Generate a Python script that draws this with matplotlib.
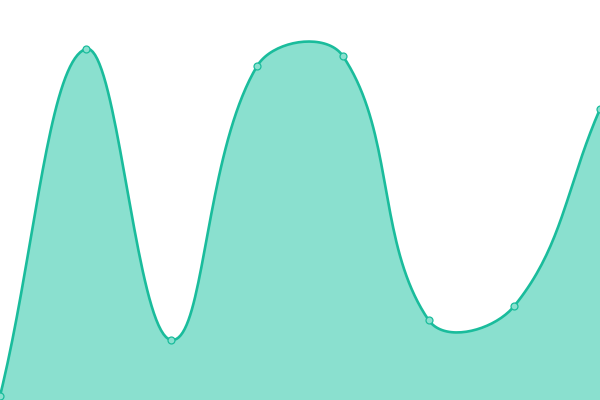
import numpy as np
import matplotlib
matplotlib.use("Agg")
import matplotlib.pyplot as plt

# series values (y axis 0..400)
labels = ["A", "B", "C", "D", "E", "F", "G", "H"]
values = [4, 351, 60, 334, 344, 80, 94, 291]

LINE = "#1abc9c"
FILL = "#8ae0cf"
TENSION = 0.4


def spline_path(px, py, tension=TENSION, n=40):
    """Chart.js style bezier spline through points given in pixel space."""
    pts = np.column_stack([px, py])
    k = len(pts)
    ctrl_prev = pts.copy()
    ctrl_next = pts.copy()
    for i in range(k):
        prev = pts[max(i - 1, 0)]
        cur = pts[i]
        nxt = pts[min(i + 1, k - 1)]
        d01 = np.hypot(*(cur - prev))
        d12 = np.hypot(*(nxt - cur))
        tot = d01 + d12
        s01 = d01 / tot if tot else 0
        s12 = d12 / tot if tot else 0
        fa = tension * s01
        fb = tension * s12
        ctrl_prev[i] = cur - fa * (nxt - prev)
        ctrl_next[i] = cur + fb * (nxt - prev)
    t = np.linspace(0, 1, n)[:, None]
    out = [pts[:1]]
    for i in range(k - 1):
        p0, p1, p2, p3 = pts[i], ctrl_next[i], ctrl_prev[i + 1], pts[i + 1]
        seg = ((1 - t) ** 3) * p0 + 3 * ((1 - t) ** 2) * t * p1 \
            + 3 * (1 - t) * t ** 2 * p2 + t ** 3 * p3
        out.append(seg[1:])
    return np.vstack(out)


fig = plt.figure(figsize=(6, 4), dpi=100)
ax = fig.add_axes([0, 0, 1, 1])
ax.set_xlim(0, len(labels) - 1)
ax.set_ylim(0, 400)
ax.axis("off")

x = np.arange(len(labels))
disp = ax.transData.transform(np.column_stack([x, values]))
curve = spline_path(disp[:, 0], disp[:, 1])
curve = ax.transData.inverted().transform(curve)

ax.fill_between(curve[:, 0], curve[:, 1], 0, color=FILL, lw=0)
ax.plot(curve[:, 0], curve[:, 1], color=LINE, lw=1.9)
ax.plot(x, values, "o", ms=5, mfc=FILL, mec=LINE, mew=0.9)

fig.savefig("out.png", dpi=100)
